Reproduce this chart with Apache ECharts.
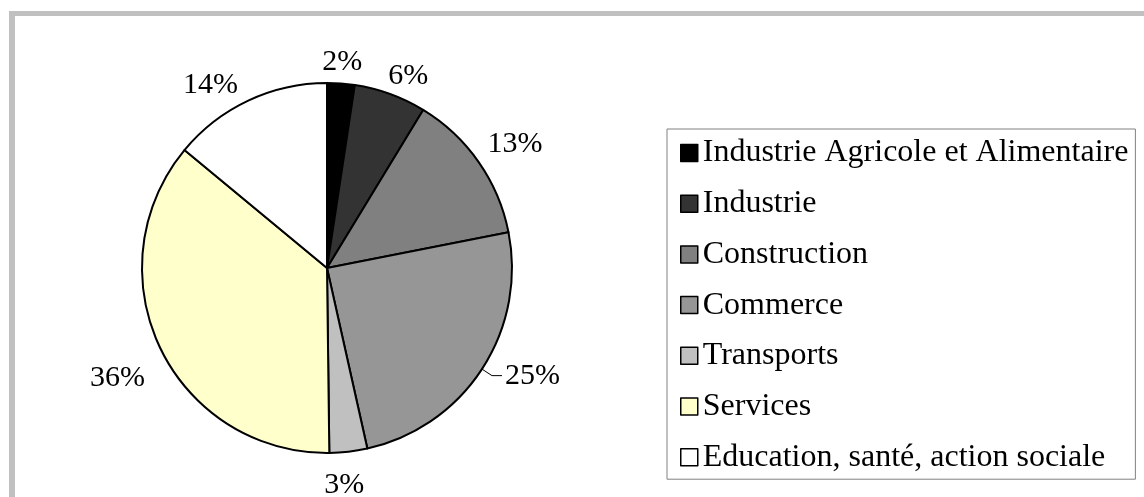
<!DOCTYPE html>
<html>
<head>
<meta charset="utf-8">
<script src="https://cdn.jsdelivr.net/npm/echarts@6/dist/echarts.min.js"></script>
<style>
  html, body { margin: 0; padding: 0; background: #fff; }
  #graphSecteurs { width: 1144px; height: 497px; }
</style>
</head>
<body>
<div id="graphSecteurs"></div>
<script>
// Répartition par secteur d'activité (en %)
var secteurs = ['Industrie Agricole et Alimentaire', 'Industrie', 'Construction', 'Commerce',
  'Transports', 'Services', 'Education, santé, action sociale'];
var parts = [2.4, 6.3, 13.2, 24.6, 3.3, 36.2, 14.0];
var couleurs = ['#000000', '#333333', '#808080', '#969696', '#c0c0c0', '#ffffcc', '#ffffff'];

var fontFamily = '"Liberation Serif", "Times New Roman", serif';
var centre = [327, 268];
var rayon = 185;
// petits déplacements manuels des étiquettes (comme dans le classeur d'origine)
var decalages = [[-1, 6], [7, 7], [4, -3], [0, 0], [-8, 7], [-7, 19], [-21, 9]];

// angle du milieu de chaque part, depuis midi, sens horaire
var total = parts.reduce(function (a, b) { return a + b; }, 0);
var cumul = 0;
var milieux = parts.map(function (v) {
  var m = (cumul + v / 2) / total * 2 * Math.PI;
  cumul += v;
  return m;
});

// étiquettes posées juste à l'extérieur du camembert
function placerEtiquette(params) {
  var i = params.dataIndex;
  if (i === 3) {
    return {}; // Commerce garde sa ligne de rappel
  }
  var a = milieux[i];
  var ux = Math.sin(a), uy = -Math.cos(a);
  var w = params.labelRect.width, h = params.labelRect.height;
  var d = rayon + 12;
  return {
    x: centre[0] + ux * d + ux * w / 2 + decalages[i][0],
    y: centre[1] + uy * d + uy * h / 2 + decalages[i][1],
    align: 'center',
    verticalAlign: 'middle'
  };
}

var graph = echarts.init(document.getElementById('graphSecteurs'), null, {renderer: 'canvas'});
var graphOption = {
  animation: false,
  backgroundColor: '#fff',
  graphic: [
    // cadre gris (bords gauche et haut)
    {type: 'rect', shape: {x: 9, y: 11, width: 6, height: 486}, style: {fill: '#c0c0c0'}},
    {type: 'rect', shape: {x: 9, y: 11, width: 1135, height: 5}, style: {fill: '#c0c0c0'}}
  ],
  legend: {
    orient: 'vertical',
    left: 667,
    top: 129,
    padding: [8, 7, 6, 13],
    icon: 'rect',
    itemWidth: 17,
    itemHeight: 17,
    itemGap: 18.7,
    borderColor: '#808080',
    borderWidth: 1,
    backgroundColor: '#fff',
    itemStyle: {borderColor: '#000', borderWidth: 1.5},
    textStyle: {
      fontFamily: fontFamily,
      fontSize: 32,
      lineHeight: 32,
      color: '#000'
    },
    data: secteurs
  },
  series: [
    {
      name: 'Secteurs',
      type: 'pie',
      center: centre,
      radius: rayon,
      startAngle: 90,
      clockwise: true,
      avoidLabelOverlap: false,
      silent: true,
      itemStyle: {borderColor: '#000', borderWidth: 2},
      label: {
        show: true,
        position: 'outside',
        formatter: function (p) { return Math.round(p.percent) + '%'; },
        fontFamily: fontFamily,
        fontSize: 30,
        color: '#000',
        distanceToLabelLine: 3
      },
      labelLine: {
        show: false,
        length: 12,
        length2: 10,
        lineStyle: {color: '#000', width: 1}
      },
      labelLayout: placerEtiquette,
      data: secteurs.map(function (nom, i) {
        var item = {name: nom, value: parts[i], itemStyle: {color: couleurs[i]}};
        if (i === 3) {
          item.labelLine = {show: true};
        }
        return item;
      })
    }
  ]
};
graph.setOption(graphOption);
</script>
</body>
</html>
